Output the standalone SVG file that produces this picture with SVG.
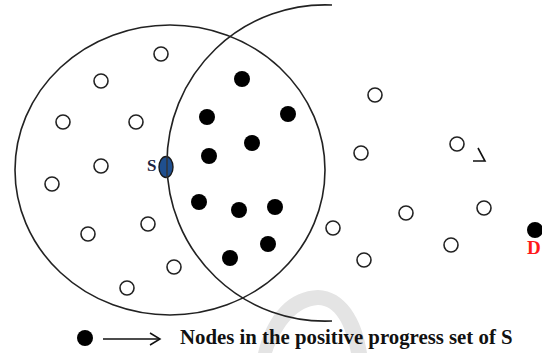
<svg xmlns="http://www.w3.org/2000/svg" width="542" height="353" viewBox="0 0 542 353">
<style>
.open{fill:#fff;stroke:#222;stroke-width:1.6}
.fill{fill:#000}
.ring{fill:none;stroke:#222;stroke-width:1.6}
.lbl{font-family:"Liberation Serif","Times New Roman",serif;font-weight:bold}
</style>
<rect width="542" height="353" fill="#fff"/>
<path id="watermark" d="M258 353 C268 312 290 291 318 290 C345 291 362 318 367 353 L351 353 C346 325 335 305 318 305 C298 306 282 325 272 353 Z" fill="#e4e4e4"/>
<g id="ranges">
<ellipse cx="170" cy="170" rx="155" ry="145" class="ring"/>
<path d="M332 5 A158.15 158.15 0 1 0 332 321" class="ring"/>
</g>
<g id="open-nodes">
<circle id="n1" cx="161" cy="54" r="7" class="open"/>
<circle id="n2" cx="101" cy="81" r="7" class="open"/>
<circle id="n3" cx="63" cy="122" r="7" class="open"/>
<circle id="n4" cx="136" cy="122" r="7" class="open"/>
<circle id="n5" cx="101" cy="166" r="7" class="open"/>
<circle id="n6" cx="52" cy="184" r="7" class="open"/>
<circle id="n7" cx="148" cy="224" r="7" class="open"/>
<circle id="n8" cx="88" cy="234" r="7" class="open"/>
<circle id="n9" cx="174" cy="267" r="7" class="open"/>
<circle id="n10" cx="127" cy="288" r="7" class="open"/>
<circle id="n11" cx="375" cy="95" r="7" class="open"/>
<circle id="n12" cx="361" cy="153" r="7" class="open"/>
<circle id="n13" cx="457" cy="144" r="7" class="open"/>
<circle id="n14" cx="333" cy="228" r="7" class="open"/>
<circle id="n15" cx="406" cy="213" r="7" class="open"/>
<circle id="n16" cx="364" cy="260" r="7" class="open"/>
<circle id="n17" cx="451" cy="245" r="7" class="open"/>
<circle id="n18" cx="484" cy="208" r="7" class="open"/>
</g>
<g id="progress-nodes">
<circle id="p1" cx="242" cy="79" r="8" class="fill"/>
<circle id="p2" cx="207" cy="117" r="8" class="fill"/>
<circle id="p3" cx="288" cy="114" r="8" class="fill"/>
<circle id="p4" cx="252" cy="143" r="8" class="fill"/>
<circle id="p5" cx="209" cy="156" r="8" class="fill"/>
<circle id="p6" cx="199" cy="202" r="8" class="fill"/>
<circle id="p7" cx="239" cy="210" r="8" class="fill"/>
<circle id="p8" cx="275" cy="207" r="8" class="fill"/>
<circle id="p9" cx="268" cy="244" r="8" class="fill"/>
<circle id="p10" cx="230" cy="258" r="8" class="fill"/>
</g>
<g id="node-S">
<ellipse cx="166" cy="167" rx="7" ry="10.5" fill="#1f4f8f" stroke="#1a1a1a" stroke-width="1.4"/>
<path d="M167 156 L167 178" fill="none" stroke="#333" stroke-width="1.4"/>
<text x="147" y="171" class="lbl" font-size="17" fill="#1a2240">S</text>
</g>
<g id="node-D">
<circle cx="535" cy="230" r="8" class="fill"/>
<text x="527" y="254" class="lbl" font-size="19" fill="#ff1a1a">D</text>
</g>
<g id="mark">
<polyline points="478,148 485,161 473,161" fill="none" stroke="#111" stroke-width="1.6"/>
</g>
<g id="legend">
<circle cx="85" cy="338" r="8" class="fill"/>
<g id="connectors">
<line x1="103" y1="339" x2="160" y2="339" stroke="#111" stroke-width="1.5"/>
<polyline points="150,333 160,339 150,345" fill="none" stroke="#111" stroke-width="1.5"/>
</g>
<text x="180" y="344" class="lbl" font-size="20.8" fill="#111">Nodes in the positive progress set of S</text>
</g>
</svg>
